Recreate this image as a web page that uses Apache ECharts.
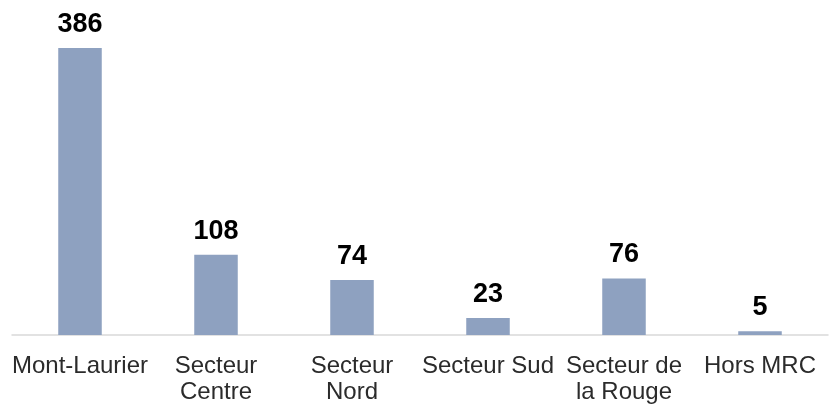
<!DOCTYPE html>
<html>
<head>
<meta charset="utf-8">
<script src="https://cdn.jsdelivr.net/npm/echarts@6/dist/echarts.min.js"></script>
<style>
  html, body { margin: 0; padding: 0; background: #fff; }
  #chart { width: 831px; height: 405px; }
</style>
</head>
<body>
<div id="chart"></div>
<script>
var categories = ['Mont-Laurier', 'Secteur\nCentre', 'Secteur\nNord', 'Secteur Sud', 'Secteur de\nla Rouge', 'Hors MRC'];
var values = [386, 108, 74, 23, 76, 5];

var myChart = echarts.init(document.getElementById('chart'));

var option = {
    animation: false,
    grid: {
        left: 12,
        right: 3,
        top: 48,
        bottom: 69
    },
    xAxis: {
        type: 'category',
        data: categories,
        axisLine: { lineStyle: { color: '#d9d9d9', width: 1.5 } },
        axisTick: { show: false },
        axisLabel: {
            interval: 0,
            color: '#2b2b2b',
            fontSize: 24,
            lineHeight: 26,
            margin: 18,
            fontFamily: 'Liberation Sans'
        }
    },
    yAxis: {
        type: 'value',
        min: 0,
        max: 386,
        show: false,
        splitLine: { show: false }
    },
    series: [{
        type: 'bar',
        data: values,
        barWidth: '32%',
        itemStyle: { color: '#8ea1c0' },
        label: {
            show: true,
            position: 'top',
            distance: 10,
            color: '#000',
            fontSize: 27,
            fontWeight: 'bold',
            fontFamily: 'Liberation Sans'
        }
    }]
};

myChart.setOption(option);
</script>
</body>
</html>
